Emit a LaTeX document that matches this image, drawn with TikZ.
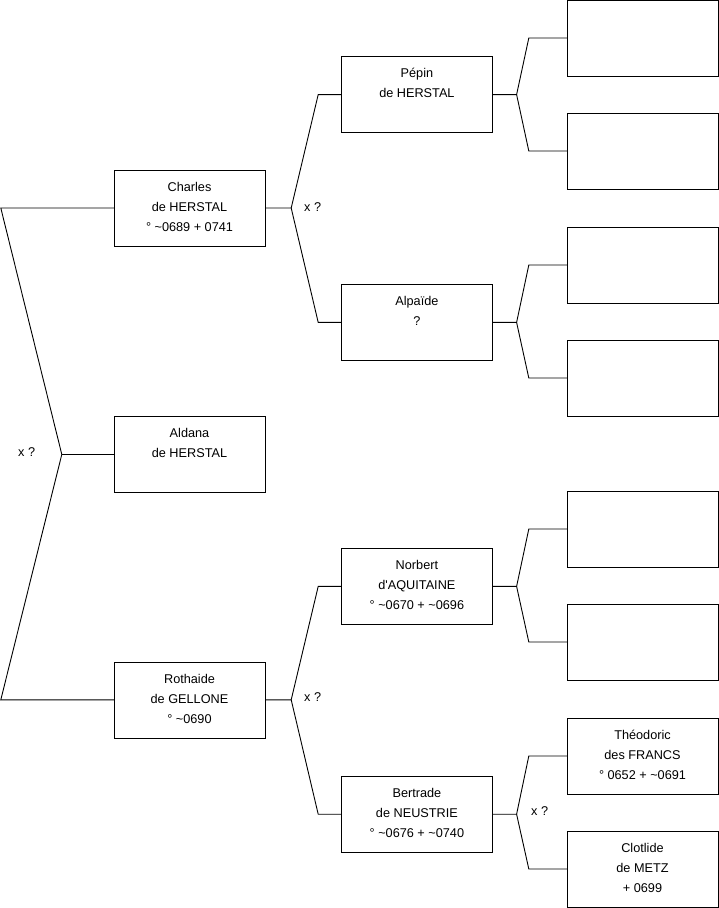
\documentclass[tikz,border=0pt]{standalone}
\usepackage{fontspec}
\setmainfont{Liberation Sans}
\usetikzlibrary{positioning}

\begin{document}
\begin{tikzpicture}[
    x=1pt, y=-1pt,
    person/.style={
        draw,
        minimum width=151pt,
        minimum height=76pt,
        inner sep=0pt,
        execute at begin node={\begin{minipage}[c][52pt][t]{151pt}\centering\fontsize{12.7}{20}\selectfont},
        execute at end node={\end{minipage}}
    },
    unknown/.style={
        draw,
        minimum width=151pt,
        minimum height=76pt,
        inner sep=0pt
    },
    link/.style={
        line width=0.9pt
    },
    union/.style={
        anchor=west,
        inner sep=0pt,
        font={\fontsize{12.7}{14}\selectfont}
    }
]
\useasboundingbox (0,0) rectangle (719,908);

% generation 1
\node[person] (charles) at (189.5,208) {Charles\\de HERSTAL\\° \textasciitilde0689 + 0741};
\node[person, below=170pt of charles] (aldana) {Aldana\\de HERSTAL};
\node[person, below=169pt of aldana] (rothaide) {Rothaide\\de GELLONE\\° \textasciitilde0690};

% generation 2
\node[person, above right=37pt and 76pt of charles] (pepin) {Pépin\\de HERSTAL};
\node[person, below right=38pt and 76pt of charles] (alpaide) {Alpaïde\\?};
\node[person, above right=37pt and 76pt of rothaide] (norbert) {Norbert\\d\textquotesingle AQUITAINE\\° \textasciitilde0670 + \textasciitilde0696};
\node[person, below right=38pt and 76pt of rothaide] (bertrade) {Bertrade\\de NEUSTRIE\\° \textasciitilde0676 + \textasciitilde0740};

% generation 3
\node[unknown] (r1) at (642.5,38) {};
\node[unknown] (r2) at (642.5,151) {};
\node[unknown] (r3) at (642.5,265) {};
\node[unknown] (r4) at (642.5,378) {};
\node[unknown] (r5) at (642.5,529) {};
\node[unknown] (r6) at (642.5,642) {};
\node[person] (theodoric) at (642.5,756) {Théodoric\\des FRANCS\\° 0652 + \textasciitilde0691};
\node[person] (clotlide) at (642.5,869) {Clotlide\\de METZ\\+ 0699};

% forks
\draw[link] (charles.west) -- ++(-113,0) -- ([xshift=-52pt]aldana.west) coordinate (j0)
    -- ([xshift=-113pt]rothaide.west) -- (rothaide.west);
\draw[link] (j0) -- (aldana.west);

\foreach \p/\a/\b in {charles/pepin/alpaide, rothaide/norbert/bertrade} {
    \draw[link] (\p.east) -- ++(26,0) coordinate (\p-j) -- ([xshift=-23pt]\a.west) -- (\a.west);
    \draw[link] (\p-j) -- ([xshift=-23pt]\b.west) -- (\b.west);
}

\foreach \p/\a/\b in {pepin/r1/r2, alpaide/r3/r4, norbert/r5/r6, bertrade/theodoric/clotlide} {
    \draw[link] (\p.east) -- ++(24,0) coordinate (\p-j) -- ([xshift=-38pt]\a.west) -- (\a.west);
    \draw[link] (\p-j) -- ([xshift=-38pt]\b.west) -- (\b.west);
}

% unions
\node[union] (u0) at (18,452) {x ?};
\node[union] (u1) at (304,207) {x ?};
\node[union] (u2) at (304,697) {x ?};
\node[union] (u3) at (531,811) {x ?};

\end{tikzpicture}
\end{document}
